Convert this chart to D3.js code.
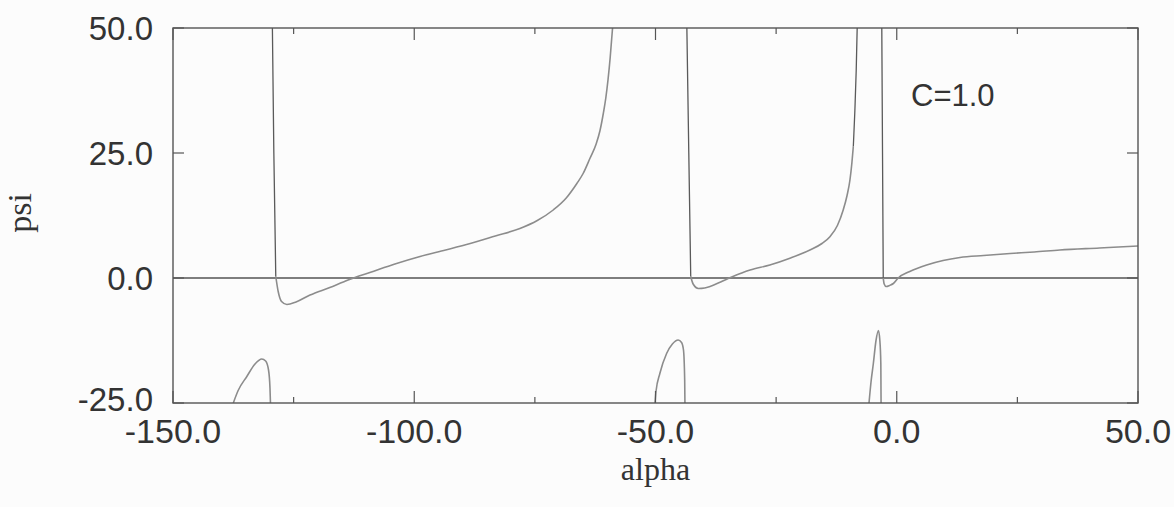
<!DOCTYPE html>
<html>
<head>
<meta charset="utf-8">
<script src="https://cdn.jsdelivr.net/npm/d3@7"></script>
<style>
  body { margin: 0; background: #fcfcfc; }
  svg { display: block; }
</style>
</head>
<body>
<svg id="svg1"></svg>
<script>
const width = 1174;
const height = 507;

// upper branches: gray bodies
const b1Alpha = [-128.7, -128.2, -127.5, -126.4, -124.5, -121.6, -117.5, -114.7, -112.3, -109.2, -104, -98.8, -93.5, -88.4, -83.2, -78.1, -74.5, -71.2, -68.5, -66.3, -65, -63.6, -62.3, -61.5, -60.8, -60.3, -59.4, -58.9];
const b1Psi   = [0.3, -2.7, -4.7, -5.3, -4.8, -3.4, -1.9, -0.8, 0.1, 1.1, 2.8, 4.3, 5.6, 6.9, 8.4, 9.9, 11.5, 13.6, 16.0, 18.9, 20.9, 23.9, 26.8, 29.5, 33.0, 36.0, 44, 50];

const b2Alpha = [-42.7, -42.2, -41.1, -39.8, -38.7, -36.5, -34.2, -30.4, -26.3, -22, -18, -15.5, -13.8, -12.3, -11.1, -10.3, -9.7, -9.3, -9.0];
const b2Psi   = [0.3, -1.2, -2.1, -2.0, -1.7, -0.8, 0.2, 1.6, 2.6, 4.0, 5.6, 6.9, 8.3, 10.5, 13.6, 16.5, 19.6, 23, 26.3];

const b3Alpha = [-2.8, -2.6, -2.2, -1.5, -0.7, 0.3, 2.7, 6.2, 9.6, 13.1, 18, 23.5, 28.5, 33.8, 42, 50];
const b3Psi   = [0, -1.2, -1.7, -1.5, -1.1, 0, 1.3, 2.6, 3.5, 4.1, 4.5, 4.9, 5.2, 5.6, 6.0, 6.4];

// steep (darker) pieces
const s1Alpha = [-129.4, -129.1, -128.7];
const s1Psi   = [50, 25, 0.3];
const s2Alpha = [-43.5, -43.1, -42.7];
const s2Psi   = [50, 25, 0.3];
const s2bAlpha = [-9.0, -8.7, -8.4, -8.2];
const s2bPsi   = [26.3, 33, 41.6, 50];
const s3Alpha = [-3.1, -2.95, -2.8];
const s3Psi   = [50, 25, 0];

// lower bumps
const k1Alpha = [-137.5, -136.5, -134.7, -133, -131.6, -130.8, -130.2, -129.9, -129.8];
const k1Psi   = [-25, -22.5, -19.7, -17.2, -16.2, -16.6, -18.4, -22, -25];
const k2Alpha = [-50.1, -49.9, -49.1, -47.7, -46.5, -45.3, -44.6, -44.2, -43.95, -43.9];
const k2Psi   = [-25, -22.7, -19.1, -15.1, -13.2, -12.4, -12.9, -14.4, -20.4, -25];
const k3Alpha = [-5.75, -5.3, -4.85, -4.3, -3.8, -3.5, -3.3, -3.25];
const k3Psi   = [-25, -20.5, -17.1, -12.5, -10.5, -12.5, -17.1, -25];

const xMajor = [-150, -100, -50, 0, 50];
const xMinor = [-125, -75, -25, 25];
const yTicks = [-25, 0, 25, 50];

const margin = {top: 28, right: 36, bottom: 104, left: 173};

const svg = d3.select("#svg1")
    .attr("width", width)
    .attr("height", height)
    .attr("viewBox", [0, 0, width, height]);

const x = d3.scaleLinear().domain([-150, 50]).range([margin.left, width - margin.right]);
const y = d3.scaleLinear().domain([-25, 50]).range([height - margin.bottom, margin.top]);

const axisColor = "#555";

const line = d3.line()
    .x(d => x(d[0]))
    .y(d => y(d[1]))
    .curve(d3.curveMonotoneX);

const zip = (a, b) => a.map((v, i) => [v, b[i]]);

const plot = svg.append("g");
plot.append("clipPath").attr("id", "clip")
    .append("rect")
    .attr("x", x(-150)).attr("y", y(50))
    .attr("width", x(50) - x(-150)).attr("height", y(-25) - y(50));

// zero line
plot.append("line")
    .attr("x1", x(-150)).attr("x2", x(50))
    .attr("y1", y(0)).attr("y2", y(0))
    .attr("stroke", axisColor).attr("stroke-width", 1.3);

const curves = plot.append("g").attr("clip-path", "url(#clip)").attr("fill", "none");

[[b1Alpha, b1Psi], [b2Alpha, b2Psi], [b3Alpha, b3Psi],
 [k1Alpha, k1Psi], [k2Alpha, k2Psi], [k3Alpha, k3Psi]].forEach(([a, p]) => {
    curves.append("path")
        .attr("d", line(zip(a, p)))
        .attr("stroke", "#8c8c8c")
        .attr("stroke-width", 1.6);
});

[[s1Alpha, s1Psi], [s2Alpha, s2Psi], [s2bAlpha, s2bPsi], [s3Alpha, s3Psi]].forEach(([a, p]) => {
    curves.append("path")
        .attr("d", line(zip(a, p)))
        .attr("stroke", "#5a5a5a")
        .attr("stroke-width", 1.3);
});

// frame
svg.append("rect")
    .attr("x", x(-150)).attr("y", y(50))
    .attr("width", x(50) - x(-150)).attr("height", y(-25) - y(50))
    .attr("fill", "none").attr("stroke", axisColor).attr("stroke-width", 1.4);

// ticks, drawn inward on all four sides
const tk = svg.append("g").attr("stroke", axisColor).attr("stroke-width", 1.2);
xMajor.concat(xMinor).forEach(v => {
    const len = xMajor.includes(v) ? 12 : 6;
    tk.append("line").attr("x1", x(v)).attr("x2", x(v))
        .attr("y1", y(-25)).attr("y2", y(-25) - len);
    tk.append("line").attr("x1", x(v)).attr("x2", x(v))
        .attr("y1", y(50)).attr("y2", y(50) + len);
});
yTicks.forEach(v => {
    tk.append("line").attr("x1", x(-150)).attr("x2", x(-150) + 11)
        .attr("y1", y(v)).attr("y2", y(v));
    tk.append("line").attr("x1", x(50)).attr("x2", x(50) - 11)
        .attr("y1", y(v)).attr("y2", y(v));
});

const fmt = d => d.toFixed(1);
const sans = "Liberation Sans, Arial, sans-serif";
const serif = "Liberation Serif, Times New Roman, serif";

svg.append("g")
    .selectAll("text")
    .data(xMajor)
    .join("text")
    .attr("x", d => x(d))
    .attr("y", 443)
    .attr("text-anchor", "middle")
    .attr("font-family", sans)
    .attr("font-size", 34)
    .attr("fill", "#333")
    .text(d => fmt(d));

svg.append("g")
    .selectAll("text")
    .data(yTicks)
    .join("text")
    .attr("x", 153)
    .attr("y", d => y(d) - (d === -25 ? 4 : 0))
    .attr("dy", "0.36em")
    .attr("text-anchor", "end")
    .attr("font-family", sans)
    .attr("font-size", 33)
    .attr("fill", "#333")
    .text(d => fmt(d));

svg.append("text")
    .attr("x", x(-50))
    .attr("y", 480)
    .attr("text-anchor", "middle")
    .attr("font-family", serif)
    .attr("font-size", 32)
    .attr("fill", "#333")
    .text("alpha");

svg.append("text")
    .attr("transform", `translate(31,${y(13)}) rotate(-90)`)
    .attr("text-anchor", "middle")
    .attr("font-family", serif)
    .attr("font-size", 34)
    .attr("fill", "#333")
    .text("psi");

svg.append("text")
    .attr("x", 911)
    .attr("y", 106)
    .attr("font-family", sans)
    .attr("font-size", 31)
    .attr("fill", "#333")
    .text("C=1.0");
</script>
</body>
</html>
